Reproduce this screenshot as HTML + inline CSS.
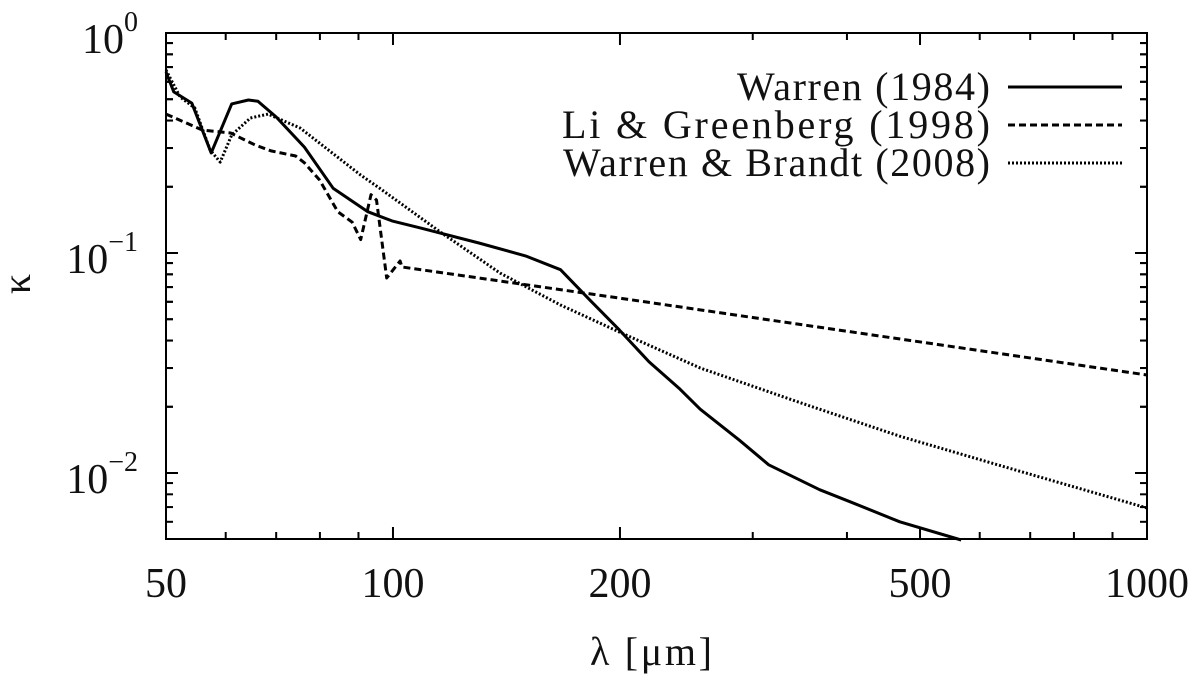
<!DOCTYPE html>
<html><head><meta charset="utf-8"><style>
html,body{margin:0;padding:0;background:#fff;}
svg text{font-family:"Liberation Serif",serif;fill:#111;}
</style></head><body>
<svg id="chart" width="1200" height="675" xmlns="http://www.w3.org/2000/svg">
<rect x="166" y="33" width="981" height="506" fill="none" stroke="#000" stroke-width="2"/>
<g id="axes"></g>
<g id="series"></g>
<text transform="translate(30,284) rotate(-90)" font-size="40" text-anchor="middle">κ</text>
<text x="651" y="665" font-size="40" text-anchor="middle" textLength="122">λ [μm]</text>
<g>
<text x="990" y="100" font-size="40" text-anchor="end" textLength="253">Warren (1984)</text>
<text x="990" y="138" font-size="40" text-anchor="end" textLength="428">Li &amp; Greenberg (1998)</text>
<text x="990" y="176" font-size="40" text-anchor="end" textLength="427">Warren &amp; Brandt (2008)</text>
<line x1="1008" y1="87" x2="1122" y2="87" stroke="#000" stroke-width="3"/>
<line x1="1008" y1="125" x2="1122" y2="125" stroke="#000" stroke-width="3" stroke-dasharray="7,4"/>
<line x1="1008" y1="163" x2="1122" y2="163" stroke="#000" stroke-width="3" stroke-dasharray="2,2"/>
</g>
</svg>
<script>
const warrenLambda=[50,51.2,54.1,57.4,61.1,64.3,66.2,70,76.3,83.3,92.6,99.7,108.7,130,149.9,166.8,182.5,199.7,218.6,239.5,255.5,288,315,368,404,470,567];
const warrenKappa=[0.665,0.54,0.48,0.285,0.476,0.496,0.49,0.415,0.303,0.197,0.154,0.14,0.13,0.111,0.097,0.084,0.061,0.0446,0.032,0.0243,0.0195,0.0141,0.0109,0.0084,0.0074,0.006,0.00496];
const liLambda=[50,55.9,60.9,65.6,68.9,74.3,76.3,79.9,84.5,88.3,90.6,93.5,95.1,98.1,102.2,102.8,199.7,1000];
const liKappa=[0.428,0.362,0.351,0.31,0.291,0.276,0.257,0.215,0.154,0.138,0.115,0.184,0.174,0.077,0.092,0.0864,0.0624,0.0279];
const wbLambda=[50,52.2,54.6,57.2,59,61.1,64.7,68.3,75.3,90.6,96,115.4,138.7,166.8,199.7,255.5,345,470,639,1000];
const wbKappa=[0.679,0.512,0.456,0.294,0.259,0.344,0.411,0.428,0.37,0.226,0.197,0.125,0.081,0.058,0.0437,0.03,0.021,0.0147,0.0108,0.00693];
const xMajor=[50,100,200,500,1000];
const xMinor=[60,70,80,90,300,400,600,700,800,900];
const yMajorExp=[0,-1,-2];
const NS="http://www.w3.org/2000/svg";
const X0=166,X1=1147,Y0=33,Y1=539;
function xs(v){return X0+(X1-X0)*Math.log10(v/50)/Math.log10(20);}
function ys(v){return Y0-220*Math.log10(v);}
function mk(tag,attrs,parent){const e=document.createElementNS(NS,tag);for(const k in attrs)e.setAttribute(k,attrs[k]);parent.appendChild(e);return e;}
const ax=document.getElementById('axes');
xMajor.forEach(v=>{const x=xs(v);
 if(v!==50&&v!==1000){const t1=mk('line',{x1:x,y1:Y1,x2:x,y2:Y1-12,stroke:'#000','stroke-width':2},ax);
 
 
 const t2=mk('line',{x1:x,y1:Y0,x2:x,y2:Y0+12,stroke:'#000','stroke-width':2},ax);
 
 }
 const l=mk('text',{x:x,y:597,'font-size':42,'text-anchor':'middle'},ax);l.textContent=v;
 
 
});
xMinor.forEach(v=>{const x=xs(v);
 const t1=mk('line',{x1:x,y1:Y1,x2:x,y2:Y1-7,stroke:'#000','stroke-width':2},ax);
 
 
 const t2=mk('line',{x1:x,y1:Y0,x2:x,y2:Y0+7,stroke:'#000','stroke-width':2},ax);
 
 
});
yMajorExp.forEach(e=>{const y=ys(Math.pow(10,e));
 [X0,X1].forEach(xx=>{const d=xx===X0?1:-1;
  const t=mk('line',{x1:xx,y1:y,x2:xx+d*12,y2:y,stroke:'#000','stroke-width':2},ax);
  
  
  for(let m=2;m<10;m++){[Math.pow(10,e-1)*m,Math.pow(10,e)*m].forEach(v=>{const yy=ys(v);if(yy<Y0||yy>Y1)return;
   const tm=mk('line',{x1:xx,y1:yy,x2:xx+d*7,y2:yy,stroke:'#000','stroke-width':2},ax);
   
   });}
 });
 const l=mk('text',{x:138,y:y+20,'font-size':42,'text-anchor':'end'},ax);
 
 
 const b=mk('tspan',{},l);b.textContent='10';
 const s=mk('tspan',{'font-size':28,dy:-22},l);s.textContent=e===0?'0':'−'+(-e);
});
const sg=document.getElementById('series');
function draw(L,K,dash,name){
 const pts=L.map((l,i)=>xs(l).toFixed(1)+','+ys(K[i]).toFixed(1)).join(' ');
 const p=mk('polyline',{points:pts,fill:'none',stroke:'#000','stroke-width':3,'stroke-linejoin':'round'},sg);
 if(dash)p.setAttribute('stroke-dasharray',dash);
 
 
}
draw(warrenLambda,warrenKappa,null,'series-warren-1984');
draw(liLambda,liKappa,'7,4','series-li-greenberg-1998');
draw(wbLambda,wbKappa,'2,2','series-warren-brandt-2008');
</script>
</body></html>
